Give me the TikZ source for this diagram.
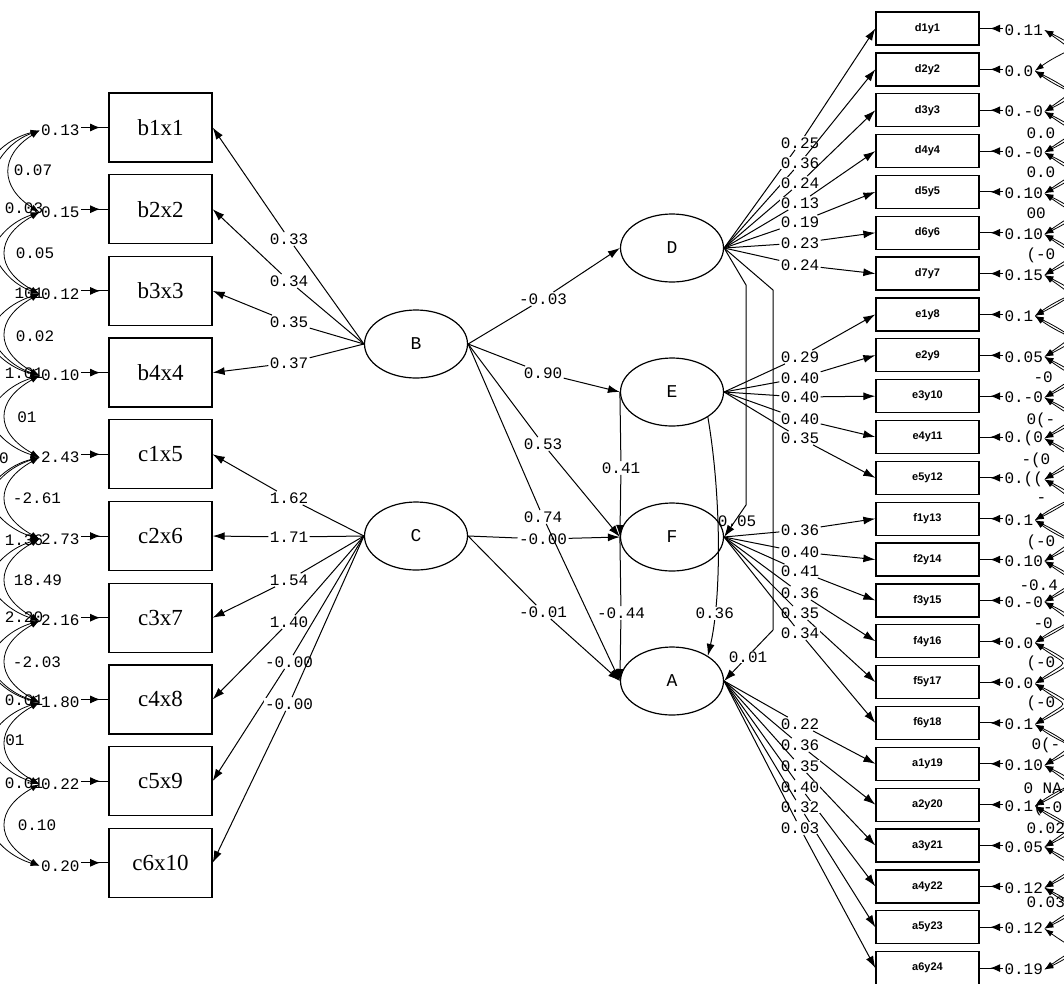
\documentclass[tikz,border=0pt]{standalone}
\usepackage{fontspec}
\setmainfont{Liberation Serif}
\newfontfamily\monof{Liberation Mono}
\newfontfamily\sansf{Liberation Sans}
\usetikzlibrary{shapes.geometric,arrows.meta,decorations.markings,calc}
\begin{document}
\begin{tikzpicture}[x=1pt,y=-1pt,line width=1pt,
  lbox/.style={draw, line width=1.3pt, minimum width=103pt, minimum height=69pt, inner sep=0pt, font=\fontsize{23}{23}\selectfont},
  rbox/.style={draw, line width=1.3pt, minimum width=103pt, minimum height=33pt, inner sep=0pt, font=\sansf\bfseries\fontsize{11}{11}\selectfont},
  lat/.style={ellipse, draw, line width=1.2pt, minimum width=103pt, minimum height=68pt, inner sep=0pt, font=\monof\fontsize{18}{18}\selectfont},
  coef/.style={fill=white, inner sep=1pt, font=\monof\fontsize{16}{16}\selectfont},
  errl/.style={inner sep=1pt, font=\monof\fontsize{16}{16}\selectfont},
  arr/.style={-{Latex[length=12pt,width=8pt]}},
  erra/.style={postaction={decorate}, decoration={markings, mark=at position #1 with {\arrow{Latex[length=10pt,width=8pt]}}}},
  cov/.style={line width=0.8pt, {Latex[length=9pt,width=6pt]}-{Latex[length=9pt,width=6pt]}},
]
\fill[white] (0,0) rectangle (1064,983);
\useasboundingbox (0,0) rectangle (1064,983);

% ---------- left indicator boxes and error terms
\foreach \i/\t/\e in {1/b1x1/0.13,2/b2x2/0.15,3/b3x3/0.12,4/b4x4/0.10,5/c1x5/2.43,6/c2x6/2.73,7/c3x7/2.16,8/c4x8/1.80,9/c5x9/0.22,10/c6x10/0.20}{
  \node[lbox] (lb\i) at (160.5,{127.5+81.7*(\i-1)}) {\t};
  \node[errl, anchor=east] (le\i) at (81,{130.5+81.7*(\i-1)}) {\e};
  \draw[erra=0.7] (le\i.east |- lb\i.west) -- (lb\i.west);
}
% left covariance clutter
\foreach \a/\b/\k in {1/2/40,1/3/70,2/3/45,2/4/75,3/4/45,3/5/80,4/5/45,4/6/80,5/6/45,5/7/80,6/7/45,6/8/80,7/8/45,7/9/80,8/9/45,8/10/80,9/10/45,1/4/100,5/8/100}{
  \draw[cov] (le\a.west) .. controls +(-\k,25) and +(-\k,-25) .. (le\b.west);
}
\foreach \n/\x/\y/\t in {1/33/170/0.07,2/24/208/0.03,3/35/253/0.05,4/29/293/101,5/35/336/0.02,6/24/373/1.01,7/27/417/01,8/4/458/0,9/37/498/-2.61,10/24/540/1.36,11/38/580/18.49,12/24/617/2.20,13/37/662/-2.03,14/24/700/0.01,15/15/740/01,16/24/783/0.01,17/37/825/0.10}{
  \node[errl] (lc\n) at (\x,\y) {\t};
}

% ---------- latent variables
\node[lat] (B) at (416,344) {B};
\node[lat] (C) at (416,536) {C};
\node[lat] (D) at (672,248) {D};
\node[lat] (E) at (672,392) {E};
\node[lat] (F) at (672,537) {F};
\node[lat] (A) at (672,681) {A};

% ---------- loadings of B and C
\foreach \i/\v/\y in {1/0.33/239,2/0.34/281,3/0.35/322,4/0.37/363}{
  \node[coef] (lB\i) at (289,\y) {\v};
  \draw (B.west) -- (lB\i);
  \draw[arr] (lB\i) -- (lb\i.east);
}
\foreach \i/\v/\y in {5/1.62/498,6/1.71/537,7/1.54/580,8/1.40/622,9/-0.00/662,10/-0.00/704}{
  \node[coef] (lC\i) at (289,\y) {\v};
  \draw (C.west) -- (lC\i);
  \draw[arr] (lC\i) -- (lb\i.east);
}

% ---------- structural paths
\node[coef] (p1) at (543,299) {-0.03};
\node[coef] (p2) at (543,373) {0.90};
\node[coef] (p3) at (543,444) {0.53};
\node[coef] (p4) at (543,517) {0.74};
\node[coef] (p5) at (543,539) {-0.00};
\node[coef] (p6) at (543,612) {-0.01};
\node[coef] (p7) at (621,468) {0.41};
\node[coef] (p8) at (621,613) {-0.44};
\draw (B.east) -- (p1); \draw[arr] (p1) -- (D.west);
\draw (B.east) -- (p2); \draw[arr] (p2) -- (E.west);
\draw (B.east) -- (p3); \draw[arr] (p3) -- (F.west);
\draw (B.east) -- (p4); \draw[arr] (p4) -- (A.west);
\draw (C.east) -- (p5); \draw[arr] (p5) -- (F.west);
\draw (C.east) -- (p6); \draw[arr] (p6) -- (A.west);
\draw (E.west) -- (p7); \draw[arr] (p7) -- (F.west);
\draw (F.west) -- (p8); \draw[arr] (p8) -- (A.west);

\draw[arr] (E.-35) .. controls (722,500) and (721,600) .. (A.35) node[coef, pos=0.78] (q36) {0.36};

\coordinate (dF1) at (746,285);
\coordinate (dF2) at (746,505);
\draw[arr] (D.east) -- (dF1) -- (dF2) -- (F.east);
\node[errl] (q05) at (737,521) {0.05};

\coordinate (dA1) at (773,290);
\coordinate (dA2) at (773,630);
\draw[arr] (D.east) -- (dA1) -- (dA2) -- (A.east);
\node[coef] (q01) at (748,657) {0.01};

% ---------- right indicator boxes and error terms
\foreach \j/\t/\e in {1/d1y1/0.11,2/d2y2/0.0,3/d3y3/0.-0,4/d4y4/0.-0,5/d5y5/0.10,6/d6y6/0.10,7/d7y7/0.15,8/e1y8/0.1,9/e2y9/0.05,10/e3y10/0.-0,11/e4y11/{0.(0},12/e5y12/{0.((},13/f1y13/0.1,14/f2y14/0.10,15/f3y15/0.-0,16/f4y16/0.0,17/f5y17/0.0,18/f6y18/0.1,19/a1y19/0.10,20/a2y20/0.1,21/a3y21/0.05,22/a4y22/0.12,23/a5y23/0.12,24/a6y24/0.19}{
  \node[rbox] (rb\j) at (927.5,{28.5+40.85*(\j-1)}) {\t};
  \node[errl, anchor=west] (re\j) at (1003,{30+40.85*(\j-1)}) {\e};
  \draw[erra=0.55] (re\j.west |- rb\j.east) -- (rb\j.east);
}
% right covariance clutter
\foreach \a in {1,...,23}{
  \pgfmathtruncatemacro{\b}{\a+1}
  \draw[cov] (re\a.east) .. controls +(35,25) and +(35,-25) .. (re\b.east);
}
\foreach \a in {1,...,22}{
  \pgfmathtruncatemacro{\b}{\a+2}
  \draw[cov] (re\a.east) .. controls +(60,30) and +(60,-30) .. (re\b.east);
}
\foreach \n/\x/\y/\t in {1/1025/133/0.0,2/1025/172/0.0,3/1025/213/00,4/1025/255/{(-0},5/1032/377/-0,6/1025/420/{0(-},7/1020/460/{-(0},8/1035/500/-,9/1025/542/{(-0},10/1018/585/-0.4,11/1032/623/-0,12/1025/663/{(-0},13/1025/703/{(-0},14/1030/745/{0(-},15/1022/788/{0 NA},16/1032/808/{(-0},17/1025/828/0.02,18/1025/902/0.03}{
  \node[errl, anchor=west] (rc\n) at (\x,\y) {\t};
}

% ---------- loadings of D, E, F, A
\foreach \j/\v/\y in {1/0.25/143,2/0.36/163,3/0.24/183,4/0.13/203,5/0.19/222,6/0.23/243,7/0.24/265}{
  \node[coef] (r\j) at (800,\y) {\v};
  \draw (D.east) -- (r\j);
  \draw[arr] (r\j) -- (rb\j.west);
}
\foreach \j/\v/\y in {8/0.29/357,9/0.40/378,10/0.40/397,11/0.40/419,12/0.35/438}{
  \node[coef] (r\j) at (800,\y) {\v};
  \draw (E.east) -- (r\j);
  \draw[arr] (r\j) -- (rb\j.west);
}
\foreach \j/\v/\y in {13/0.36/530,14/0.40/552,15/0.41/571,16/0.36/593,17/0.35/613,18/0.34/633}{
  \node[coef] (r\j) at (800,\y) {\v};
  \draw (F.east) -- (r\j);
  \draw[arr] (r\j) -- (rb\j.west);
}
\foreach \j/\v/\y in {19/0.22/724,20/0.36/745,21/0.35/766,22/0.40/787,23/0.32/807,24/0.03/828}{
  \node[coef] (r\j) at (800,\y) {\v};
  \draw (A.east) -- (r\j);
  \draw[arr] (r\j) -- (rb\j.west);
}
\end{tikzpicture}
\end{document}
